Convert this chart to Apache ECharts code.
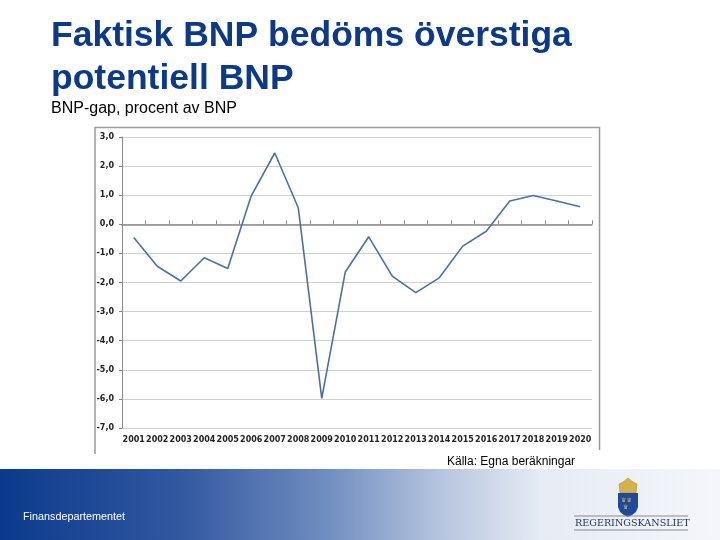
<!DOCTYPE html>
<html>
<head>
<meta charset="utf-8">
<script src="https://cdn.jsdelivr.net/npm/echarts@6/dist/echarts.min.js"></script>
<style>
  html, body { margin: 0; padding: 0; background: #fff; }
  #chart { width: 720px; height: 540px; }
</style>
</head>
<body>
<div id="chart"></div>
<script>
// BNP-gap, procent av BNP
const years = ['2001', '2002', '2003', '2004', '2005', '2006', '2007', '2008', '2009', '2010',
  '2011', '2012', '2013', '2014', '2015', '2016', '2017', '2018', '2019', '2020']
const bnpGap = [-0.45, -1.44, -1.95, -1.15, -1.52, 0.98, 2.45, 0.57, -5.98, -1.64,
  -0.43, -1.78, -2.35, -1.84, -0.75, -0.24, 0.8, 0.99, 0.8, 0.6]

const titleColor = '#0d3a87'
const axisFont = 'DejaVu Sans'
const sans = '"Liberation Sans", Arial, sans-serif'

const chart = echarts.init(document.getElementById('chart'), null, { renderer: 'canvas' })

const options = {
  backgroundColor: '#fff',
  animation: false,
  grid: { left: 122, right: 128, top: 137, bottom: 112 },
  xAxis: [
    {
      // labels along the bottom
      type: 'category',
      data: years,
      position: 'bottom',
      axisLine: { show: false, onZero: false },
      axisTick: { show: false },
      axisLabel: {
        color: '#222',
        fontFamily: axisFont,
        fontWeight: 'bold',
        fontSize: 8,
        margin: 8,
        interval: 0
      }
    },
    {
      // the zero line with its ticks
      type: 'category',
      data: years,
      position: 'bottom',
      axisLine: { show: true, onZero: true, lineStyle: { color: '#8a8a8a', width: 1.5 } },
      axisTick: { show: true, inside: true, interval: 0, length: 4, lineStyle: { color: '#8a8a8a' } },
      axisLabel: { show: false }
    }
  ],
  yAxis: {
    type: 'value',
    min: -7,
    max: 3,
    interval: 1,
    axisLine: { show: true, lineStyle: { color: '#8a8a8a' } },
    axisTick: { show: true, length: 3, lineStyle: { color: '#8a8a8a' } },
    splitLine: { lineStyle: { color: '#d0d0d0', width: 1 } },
    axisLabel: {
      color: '#222',
      fontFamily: axisFont,
      fontWeight: 'bold',
      fontSize: 8,
      margin: 8,
      formatter: v => v.toFixed(1).replace('.', ',')
    }
  },
  series: [
    {
      name: 'BNP-gap',
      type: 'line',
      xAxisIndex: 0,
      data: bnpGap,
      showSymbol: false,
      lineStyle: { color: '#4a70a6', width: 1.6 }
    }
  ],
  graphic: [
    // chart frame
    {
      type: 'polyline',
      z: -1,
      shape: { points: [[95, 454], [95, 127.5], [599.5, 127.5], [599.5, 450]] },
      style: { stroke: '#9a9a9a', fill: null, lineWidth: 1.5 }
    },
    {
      type: 'text',
      x: 51,
      y: 36,
      style: { text: 'Faktisk BNP bedöms överstiga', fill: titleColor, font: 'bold 35.5px ' + sans, verticalAlign: 'middle' }
    },
    {
      type: 'text',
      x: 51,
      y: 79,
      style: { text: 'potentiell BNP', fill: titleColor, font: 'bold 35.5px ' + sans, verticalAlign: 'middle' }
    },
    {
      type: 'text',
      x: 51,
      y: 109,
      style: { text: 'BNP-gap, procent av BNP', fill: '#000', font: '16px ' + sans, verticalAlign: 'middle' }
    },
    {
      type: 'text',
      x: 447,
      y: 461.5,
      style: { text: 'Källa: Egna beräkningar', fill: '#000', font: '12px ' + sans, verticalAlign: 'middle' }
    },
    // bottom band
    {
      type: 'rect',
      shape: { x: 0, y: 469, width: 720, height: 71 },
      style: {
        fill: new echarts.graphic.LinearGradient(0, 0, 1, 0, [
          { offset: 0, color: '#0b3a8c' },
          { offset: 0.25, color: '#3258a0' },
          { offset: 0.45, color: '#6f8cbf' },
          { offset: 0.62, color: '#b9c7df' },
          { offset: 0.75, color: '#e6ebf4' },
          { offset: 1, color: '#f4f6fa' }
        ])
      }
    },
    {
      type: 'text',
      x: 23,
      y: 517,
      style: { text: 'Finansdepartementet', fill: '#fff', font: '10.8px ' + sans, verticalAlign: 'middle' }
    },
    // logo: crown
    {
      type: 'polygon',
      shape: { points: [[620, 493], [619, 484], [623, 482], [628, 478], [633, 482], [637, 484], [636, 493]] },
      style: { fill: '#d6b24a', stroke: '#b8922c', lineWidth: 0.6 }
    },
    // logo: shield
    {
      type: 'polygon',
      shape: { points: [[618, 493], [638, 493], [638, 507], [636, 512], [632, 515], [628, 517], [624, 515], [620, 512], [618, 507]] },
      style: { fill: '#1d4a9c' }
    },
    {
      type: 'text',
      x: 621,
      y: 497,
      style: { text: '♛♛\n ♛', fill: '#d6b24a', font: '6px "DejaVu Sans"', lineHeight: 7 }
    },
    {
      type: 'line',
      shape: { x1: 574, y1: 516, x2: 688, y2: 516 },
      style: { stroke: '#8a8a8a', lineWidth: 1 }
    },
    {
      type: 'line',
      shape: { x1: 574, y1: 530, x2: 688, y2: 530 },
      style: { stroke: '#8a8a8a', lineWidth: 1 }
    },
    {
      type: 'text',
      x: 575,
      y: 523,
      style: { text: 'REGERINGSKANSLIET', fill: '#1f2f55', font: '9.6px "DejaVu Serif", serif', verticalAlign: 'middle' }
    }
  ]
}

chart.setOption(options)
window.addEventListener('resize', () => {
  chart.resize()
})
</script>
</body>
</html>
